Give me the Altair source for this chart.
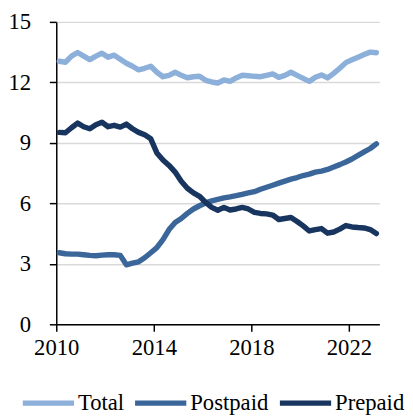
import altair as alt
import pandas as pd

# Quarterly observations, 2010Q1 .. 2023Q1
quarters = [f"{y}Q{q}" for y in range(2010, 2024) for q in range(1, 5)][:53]

series_names = ["Total", "Postpaid", "Prepaid"]
series_colors = ["#8DB0DA", "#3A6699", "#17355E"]

total = [13.05, 13.0, 13.3, 13.48, 13.3, 13.13, 13.3, 13.45, 13.25, 13.35,
         13.15, 12.95, 12.8, 12.62, 12.7, 12.8, 12.5, 12.28, 12.35, 12.5,
         12.35, 12.23, 12.28, 12.3, 12.1, 12.02, 11.97, 12.12, 12.05, 12.22,
         12.35, 12.33, 12.3, 12.28, 12.35, 12.42, 12.25, 12.35, 12.5, 12.35,
         12.2, 12.05, 12.25, 12.37, 12.22, 12.45, 12.7, 12.98, 13.12, 13.25,
         13.38, 13.5, 13.47]

postpaid = [3.55, 3.5, 3.48, 3.48, 3.45, 3.42, 3.4, 3.43, 3.45, 3.45,
            3.42, 2.95, 3.03, 3.1, 3.3, 3.55, 3.8, 4.2, 4.7, 5.05,
            5.25, 5.5, 5.72, 5.88, 6.02, 6.12, 6.2, 6.27, 6.32, 6.38,
            6.45, 6.52, 6.58, 6.7, 6.8, 6.9, 7.0, 7.1, 7.2, 7.28,
            7.38, 7.45, 7.55, 7.6, 7.68, 7.8, 7.92, 8.05, 8.2, 8.38,
            8.55, 8.72, 8.95]

prepaid = [9.52, 9.5, 9.75, 9.98, 9.8, 9.7, 9.9, 10.02, 9.8, 9.87,
           9.78, 9.93, 9.7, 9.52, 9.4, 9.2, 8.5, 8.15, 7.88, 7.55,
           7.1, 6.75, 6.52, 6.35, 6.05, 5.8, 5.66, 5.8, 5.67, 5.72,
           5.8, 5.72, 5.55, 5.5, 5.48, 5.42, 5.2, 5.25, 5.3, 5.1,
           4.88, 4.63, 4.7, 4.75, 4.52, 4.58, 4.72, 4.9, 4.83, 4.8,
           4.78, 4.7, 4.5]

x_ticks = [2010, 2014, 2018, 2022]
y_ticks = [0, 3, 6, 9, 12, 15]


def to_year(qs):
    return int(qs[:4]) + (int(qs[-1]) - 1) * 0.25 + 0.125


rows = []
for name, vals in zip(series_names, [total, postpaid, prepaid]):
    for qs, v in zip(quarters, vals):
        rows.append({"t": to_year(qs), "value": v, "series": name})
df = pd.DataFrame(rows)

FONT = "Liberation Serif"

chart = alt.Chart(df).mark_line(
    strokeWidth=5.5, strokeCap="round", strokeJoin="round"
).encode(
    x=alt.X("t:Q",
            scale=alt.Scale(domain=[2010, 2023.25], nice=False, zero=False),
            axis=alt.Axis(values=x_ticks, format="d", title=None, grid=False,
                          tickSize=7, labelPadding=6,
                          labelFont=FONT, labelFontSize=23)),
    y=alt.Y("value:Q",
            scale=alt.Scale(domain=[0, 15], nice=False),
            axis=alt.Axis(values=y_ticks, title=None, grid=True,
                          tickSize=7, labelPadding=19,
                          labelFont=FONT, labelFontSize=23)),
    color=alt.Color("series:N",
                    scale=alt.Scale(domain=series_names, range=series_colors),
                    legend=alt.Legend(title=None, orient="none",
                                      direction="horizontal",
                                      legendX=-37, legendY=358,
                                      symbolType="stroke",
                                      symbolSize=2704,
                                      symbolStrokeWidth=5.5,
                                      labelOffset=1,
                                      columnPadding=0,
                                      labelFont=FONT, labelFontSize=23)),
    detail="series:N",
).properties(width=328, height=307, padding=0).configure_axis(
    labelColor="#000000",
    domainColor="#000000", domainWidth=1.5,
    tickColor="#000000", tickWidth=1.5,
    gridColor="#D9D9D9", gridWidth=1.5,
).configure_axisX(labelFlush=False).configure_legend(
    labelColor="#000000",
).configure_view(stroke=None)

chart.save("out.html", embed_options={"renderer": "svg", "actions": False})
